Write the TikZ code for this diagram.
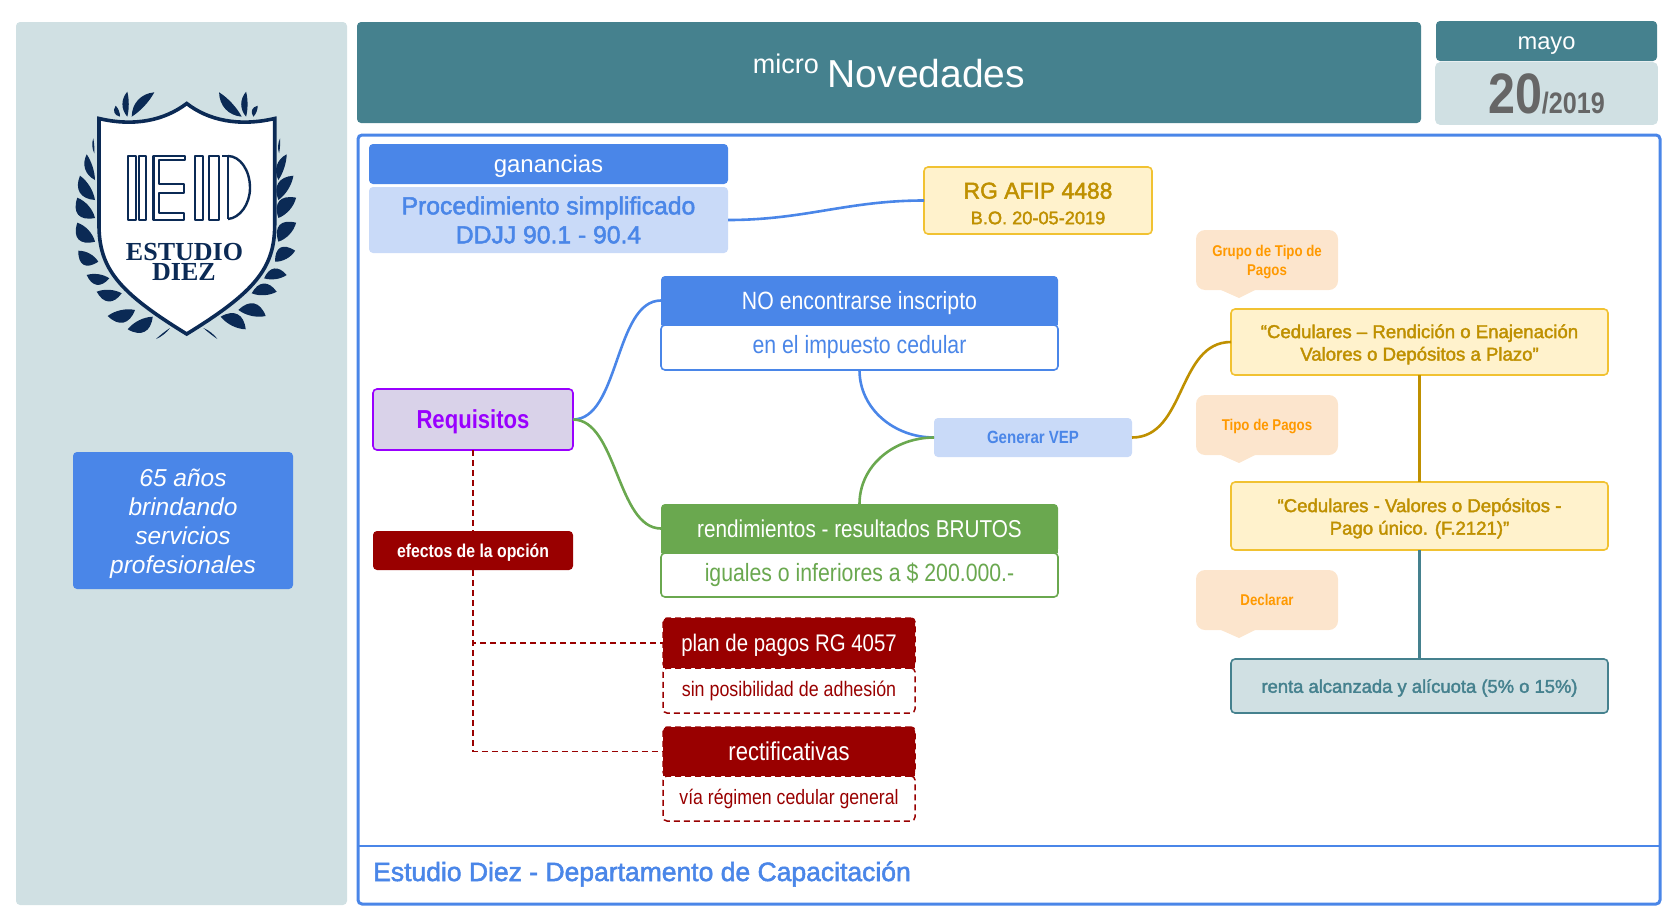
\documentclass[tikz,border=0pt]{standalone}
\usepackage{fontspec}
\setmainfont{Liberation Sans}
\newfontfamily\condfont[FakeStretch=0.85]{Liberation Sans}
\newfontfamily\medfont[FakeBold=2]{Liberation Sans}
\newfontfamily\logofont{Liberation Serif}
\usetikzlibrary{positioning,calc,backgrounds}
\newcommand{\fs}[2]{\fontsize{#1}{#2}\selectfont}
\definecolor{gblue}{HTML}{4A86E8}
\definecolor{lblue}{HTML}{C9DAF8}
\definecolor{teal}{HTML}{45818E}
\definecolor{lteal}{HTML}{D0E0E3}
\definecolor{ggreen}{HTML}{6AA84F}
\definecolor{dred}{HTML}{990000}
\definecolor{lyellow}{HTML}{FFF2CC}
\definecolor{yborder}{HTML}{F1C232}
\definecolor{ytext}{HTML}{BF9000}
\definecolor{peach}{HTML}{FCE5CD}
\definecolor{gorange}{HTML}{FF9900}
\definecolor{lpurple}{HTML}{D9D2E9}
\definecolor{purple}{HTML}{9900FF}
\definecolor{navy}{HTML}{0B2A55}
\tikzset{
  base/.style={rectangle, rounded corners=4pt, inner sep=0pt, outer sep=0pt, align=center, anchor=north west},
  head/.style={base, fill=#1, text=white, text depth=0pt, font=\condfont\fs{25}{29}},
  sub/.style={base, draw=#1, line width=1.6pt, fill=white, text=#1, font=\condfont\fs{25}{29}, anchor=north},
  dashbox/.style={base, draw=dred, line width=1.5pt, dash pattern=on 6pt off 4pt},
  yellowbox/.style={base, draw=yborder, line width=1.6pt, fill=lyellow, text=ytext, minimum width=377pt, font=\medfont\fs{18.6}{22.5}},
  note/.style={base, rounded corners=9pt, fill=peach, text=gorange, minimum width=142pt, minimum height=60pt, font=\condfont\bfseries\fs{15.6}{19}},
  curve/.style={line width=2.6pt, #1},
  dashcurve/.style={line width=1.8pt, dred, dash pattern=on 6pt off 4pt}
}
\begin{document}
\begin{tikzpicture}[x=1pt,y=-1pt]
\useasboundingbox (0,0) rectangle (1677,921);
% left panel and header
\node (panel) [base, fill=lteal, minimum width=331pt, minimum height=883pt] at (16,22) {};
\node (slogan) [base, fill=gblue, text=white, minimum width=220pt, minimum height=137pt, font=\itshape\fs{24.5}{29}] at (73,452) {\rule{0pt}{25pt}65 años\\brindando\\servicios\\profesionales};
\node (title) [base, fill=teal, text=white, minimum width=1064pt, minimum height=101pt] at (357,22) {\raisebox{-15pt}[0pt][0pt]{\raisebox{14pt}{\fs{27}{30}micro}\hspace{6pt} \fs{39}{42}Novedades}};
\node (month) [base, fill=teal, text=white, minimum width=221pt, minimum height=40pt, font=\fs{23.7}{27}] at (1436,21) {\raisebox{-8pt}[0pt][0pt]{mayo}};
\node (day) [sub=lteal, fill=lteal, text=black!60, minimum width=221pt, minimum height=61pt, below=2pt of month] {\bfseries\fs{57}{60}20\fs{29.6}{32}/2019};
% main frame
\node (frame) [base, draw=gblue, line width=3pt, minimum width=1302pt, minimum height=769pt] at (358,135) {};
\coordinate (divl) at (358,846);
\coordinate (divr) at (1660,846);
\draw[gblue, line width=2pt] (divl) -- (divr);
\node (footer) [anchor=west, inner sep=0pt, text=gblue, font=\medfont\fs{26.5}{30}] at (373,874) {Estudio Diez - Departamento de Capacitación};
% logo
\foreach \sx/\dx in {1/0,-1/373.4}{
  \begin{scope}[shift={(\dx,0)},xscale=\sx]
    \foreach \bx/\by/\tx/\ty/\w in {120/116.7/115.7/105.7/5,127.3/116.7/127.3/91.7/6.5,131.7/116.7/154.3/92.3/9,94.3/153.3/93.3/138.3/2,95/180/86.7/154.3/8,95/200/80/175.7/12,95/218/77.3/197.7/14,95/241.7/77.3/222.7/14,98.3/261.7/78.3/250.7/13,109.3/278.3/86.7/275/11,121.7/293.3/96.7/291.7/12,135/310/107.7/316/13,152.7/316.7/127.7/329.3/13,170/328/156/339/1.6}{
      \pgfmathsetmacro{\wa}{\sx*\w}
      \pgfmathsetmacro{\wb}{\sx*\w*0.3}
      \fill[navy] (\bx,\by) .. controls ($(\bx,\by)!.3!(\tx,\ty)!\wa pt!90:(\tx,\ty)$) and ($(\bx,\by)!.7!(\tx,\ty)!\wa pt!90:(\tx,\ty)$) .. (\tx,\ty) .. controls ($(\bx,\by)!.7!(\tx,\ty)!\wb pt!-90:(\tx,\ty)$) and ($(\bx,\by)!.3!(\tx,\ty)!\wb pt!-90:(\tx,\ty)$) .. (\bx,\by) -- cycle;
    }
  \end{scope}
}
\draw[navy, fill=white, line width=3.6pt, line join=miter] (99,118.5) .. controls (135,127) and (165,120) .. (186.7,103.5) .. controls (208,120) and (238,127) .. (274.7,118.5) -- (274.7,225) .. controls (274.7,268) and (255,292) .. (186.7,334) .. controls (118,292) and (99,268) .. (99,225) -- cycle;
\begin{scope}[navy, line width=2.4pt, line join=round]
  \draw (128,156) rectangle (136,220);
  \draw (139,156) rectangle (146,220);
  \draw (153.5,156) -- (185,156) -- (185,160) -- (159,160) -- (159,184) -- (184,184) -- (184,193) -- (159,193) -- (159,213) -- (184,213) -- (184,220) -- (153.5,220) -- cycle;
  \draw (195,156) rectangle (203,220);
  \draw (209,156) rectangle (219,220);
  \draw (228,156) .. controls (240,156) and (250,170) .. (250,188) .. controls (250,204) and (240,218) .. (228,219);
  \draw (222,156) -- (228,156) -- (228,219);
\end{scope}
\node (estudio) [anchor=base, inner sep=0pt, text=navy, font=\logofont\bfseries\fs{26}{28}] at (184.5,260) {ESTUDIO};
\node (diez) [anchor=base, inner sep=0pt, text=navy, font=\logofont\bfseries\fs{26}{28}] at (184,280) {DIEZ};
% top block
\node (ganancias) [head=gblue, minimum width=359pt, minimum height=40pt, font=\fs{24}{28}] at (369,144) {ganancias};
\node (proc) [base, anchor=north, fill=lblue, text=gblue, minimum width=359pt, minimum height=66pt, below=3pt of ganancias, font=\medfont\fs{24.7}{29}] {Procedimiento simplificado\\DDJJ 90.1 - 90.4};
\node (rg) [base, draw=yborder, line width=1.6pt, fill=lyellow, text=ytext, minimum width=228pt, minimum height=67pt, font=\medfont\fs{18.2}{25.6}] at (924,167) {\rule{0pt}{22pt}{\fs{22.9}{26}RG AFIP 4488}\\B.O. 20-05-2019};
\draw[curve=gblue] (proc.east) to[out=0,in=180] (rg.west);
% requisitos
\node (requisitos) [base, draw=purple, line width=1.6pt, fill=lpurple, text=purple, text depth=0pt, minimum width=200pt, minimum height=61pt, font=\condfont\bfseries\fs{26}{30}] at (373,389) {Requisitos};
\node (nohead) [head=gblue, minimum width=397pt, minimum height=49pt] at (661,276) {NO encontrarse inscripto};
\node (nosub) [sub=gblue, minimum width=397pt, minimum height=45pt, below=0pt of nohead] {en el impuesto cedular};
\node (renhead) [head=ggreen, minimum width=397pt, minimum height=49pt, font=\condfont\fs{24.4}{29}] at (661,504) {rendimientos - resultados BRUTOS};
\node (rensub) [sub=ggreen, minimum width=397pt, minimum height=44pt, below=0pt of renhead] {iguales o inferiores a \$ 200.000.-};
\node (vep) [base, fill=lblue, text=gblue, minimum width=198pt, minimum height=39pt, font=\condfont\bfseries\fs{17.7}{21}] at (934,418) {Generar VEP};
\draw[curve=gblue] (requisitos.east) to[out=0,in=180,looseness=.8] (nohead.west);
\draw[curve=ggreen] (requisitos.east) to[out=0,in=180,looseness=.8] (renhead.west);
\draw[curve=gblue] (nosub.south) to[out=-90,in=180] (vep.west);
\draw[curve=ggreen] (renhead.north) to[out=90,in=180] (vep.west);
% efectos
\node (efectos) [head=dred, minimum width=200pt, minimum height=39pt, font=\condfont\bfseries\fs{18.6}{22}] at (373,531) {efectos de la opción};
\node (planhead) [head=dred, dashbox, minimum width=252pt, minimum height=50pt, font=\condfont\fs{24}{29}] at (663,618) {plan de pagos RG 4057};
\node (plansub) [dashbox, anchor=north, fill=white, text=dred, minimum width=252pt, minimum height=45pt, below=0pt of planhead, font=\condfont\fs{21}{26}] {sin posibilidad de adhesión};
\node (recthead) [head=dred, dashbox, minimum width=252pt, minimum height=49pt, font=\condfont\fs{25.9}{29}] at (663,727) {rectificativas};
\node (rectsub) [dashbox, anchor=north, fill=white, text=dred, minimum width=252pt, minimum height=45pt, below=0pt of recthead, font=\condfont\fs{20.8}{26}] {vía régimen cedular general};
\draw[dashcurve] (requisitos.south) -- (efectos.north);
\draw[dashcurve] (efectos.south) |- (planhead.west);
\draw[dashcurve] (efectos.south) |- (recthead.west);
% right column
\node (grupo) [note] at (1196,230) {\rule{0pt}{16pt}Grupo de Tipo de\\Pagos};
\node (tipo) [note, text depth=0pt] at (1196,395) {Tipo de Pagos};
\node (declarar) [note] at (1196,570) {Declarar};
\foreach \n in {grupo,tipo,declarar}{
  \fill[peach] ([xshift=25pt]\n.south west) -- ([xshift=43pt,yshift=-8pt]\n.south west) -- ([xshift=59pt]\n.south west) -- cycle;
}
\node (ced1) [yellowbox, minimum height=66pt] at (1231,309) {\rule{0pt}{18.5pt}“Cedulares – Rendición o Enajenación\\Valores o Depósitos a Plazo”};
\node (ced2) [yellowbox, minimum height=68pt] at (1231,482) {\rule{0pt}{18.5pt}“Cedulares - Valores o Depósitos -\\Pago único. (F.2121)”};
\node (renta) [base, draw=teal, line width=1.6pt, fill=lteal, text=teal, text depth=0pt, minimum width=377pt, minimum height=54pt, font=\medfont\fs{18.4}{22}] at (1231,659) {renta alcanzada y alícuota (5\% o 15\%)};
\draw[curve=ytext] (vep.east) to[out=0,in=180] (ced1.west);
\draw[curve=ytext] (ced1.south) -- (ced2.north);
\draw[curve=teal] (ced2.south) -- (renta.north);
% square off the lower corners of the head boxes
\begin{pgfonlayer}{background}
  \foreach \n/\c in {nohead/gblue,renhead/ggreen,planhead/dred,recthead/dred}{
    \fill[\c] (\n.west) rectangle (\n.south east);
  }
\end{pgfonlayer}
\end{tikzpicture}
\end{document}
